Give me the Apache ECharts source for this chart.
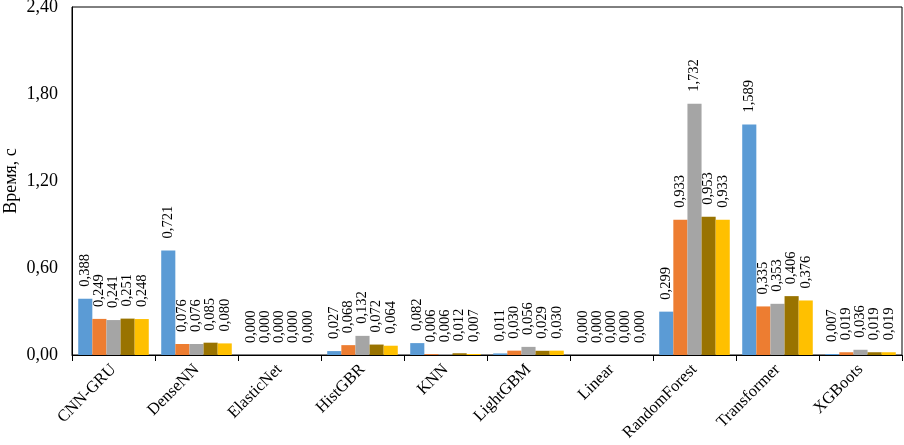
<!DOCTYPE html>
<html>
<head>
<meta charset="utf-8">
<script src="https://cdn.jsdelivr.net/npm/echarts@6/dist/echarts.min.js"></script>
<style>html,body{margin:0;padding:0;background:#fff}#c{width:904px;height:445px}</style>
</head>
<body>
<div id="c"></div>
<script>
var categories = ['CNN-GRU','DenseNN','ElasticNet','HistGBR','KNN','LightGBM','Linear','RandomForest','Transformer','XGBoots'];
var s1 = [0.388, 0.721, 0.000, 0.027, 0.082, 0.011, 0.000, 0.299, 1.589, 0.007];
var s2 = [0.249, 0.076, 0.000, 0.068, 0.006, 0.030, 0.000, 0.933, 0.335, 0.019];
var s3 = [0.241, 0.076, 0.000, 0.132, 0.006, 0.056, 0.000, 1.732, 0.353, 0.036];
var s4 = [0.251, 0.085, 0.000, 0.072, 0.012, 0.029, 0.000, 0.953, 0.406, 0.019];
var s5 = [0.248, 0.080, 0.000, 0.064, 0.007, 0.030, 0.000, 0.933, 0.376, 0.019];
var seriesNames = ['Серия 1','Серия 2','Серия 3','Серия 4','Серия 5'];
var colors = ['#5B9BD5','#ED7D31','#A5A5A5','#997300','#FFC000'];
var font = '"Liberation Serif", "Times New Roman", serif';

var chart = echarts.init(document.getElementById('c'));
var data = [s1,s2,s3,s4,s5];
chart.setOption({
  animation: false,
  grid: {left: 72, right: 2, top: 7, bottom: 90, show: true, borderColor: '#000', borderWidth: 1,
         containLabel: false, outerBoundsMode: 'none'},
  xAxis: {
    type: 'category', data: categories,
    axisLine: {lineStyle: {color: '#000'}},
    axisTick: {show: true, length: 6, lineStyle: {color: '#000'}},
    axisLabel: {rotate: 45, fontFamily: font, fontSize: 16.5, color: '#000', margin: 12, interval: 0}
  },
  yAxis: {
    type: 'value', min: 0, max: 2.4, interval: 0.6,
    name: 'Время, с', nameLocation: 'middle', nameGap: 52, nameMoveOverlap: false,
    nameTextStyle: {fontFamily: font, fontSize: 18, color: '#000'},
    axisLine: {show: true, lineStyle: {color: '#000'}},
    axisTick: {show: false},
    splitLine: {show: false},
    axisLabel: {fontFamily: font, fontSize: 18, color: '#000', margin: 14,
      formatter: function(v){ return v.toFixed(2).replace('.', ','); }}
  },
  series: data.map(function(d, i){
    return {
      type: 'bar', name: seriesNames[i], data: d,
      barGap: '0%', barCategoryGap: '15%',
      itemStyle: {color: colors[i]},
      label: {show: true, position: 'top', rotate: 90, align: 'left', verticalAlign: 'middle', distance: 12,
        fontFamily: font, fontSize: 14.5, color: '#000',
        formatter: function(p){ return p.value.toFixed(3).replace('.', ','); }}
    };
  })
});
</script>
</body>
</html>
